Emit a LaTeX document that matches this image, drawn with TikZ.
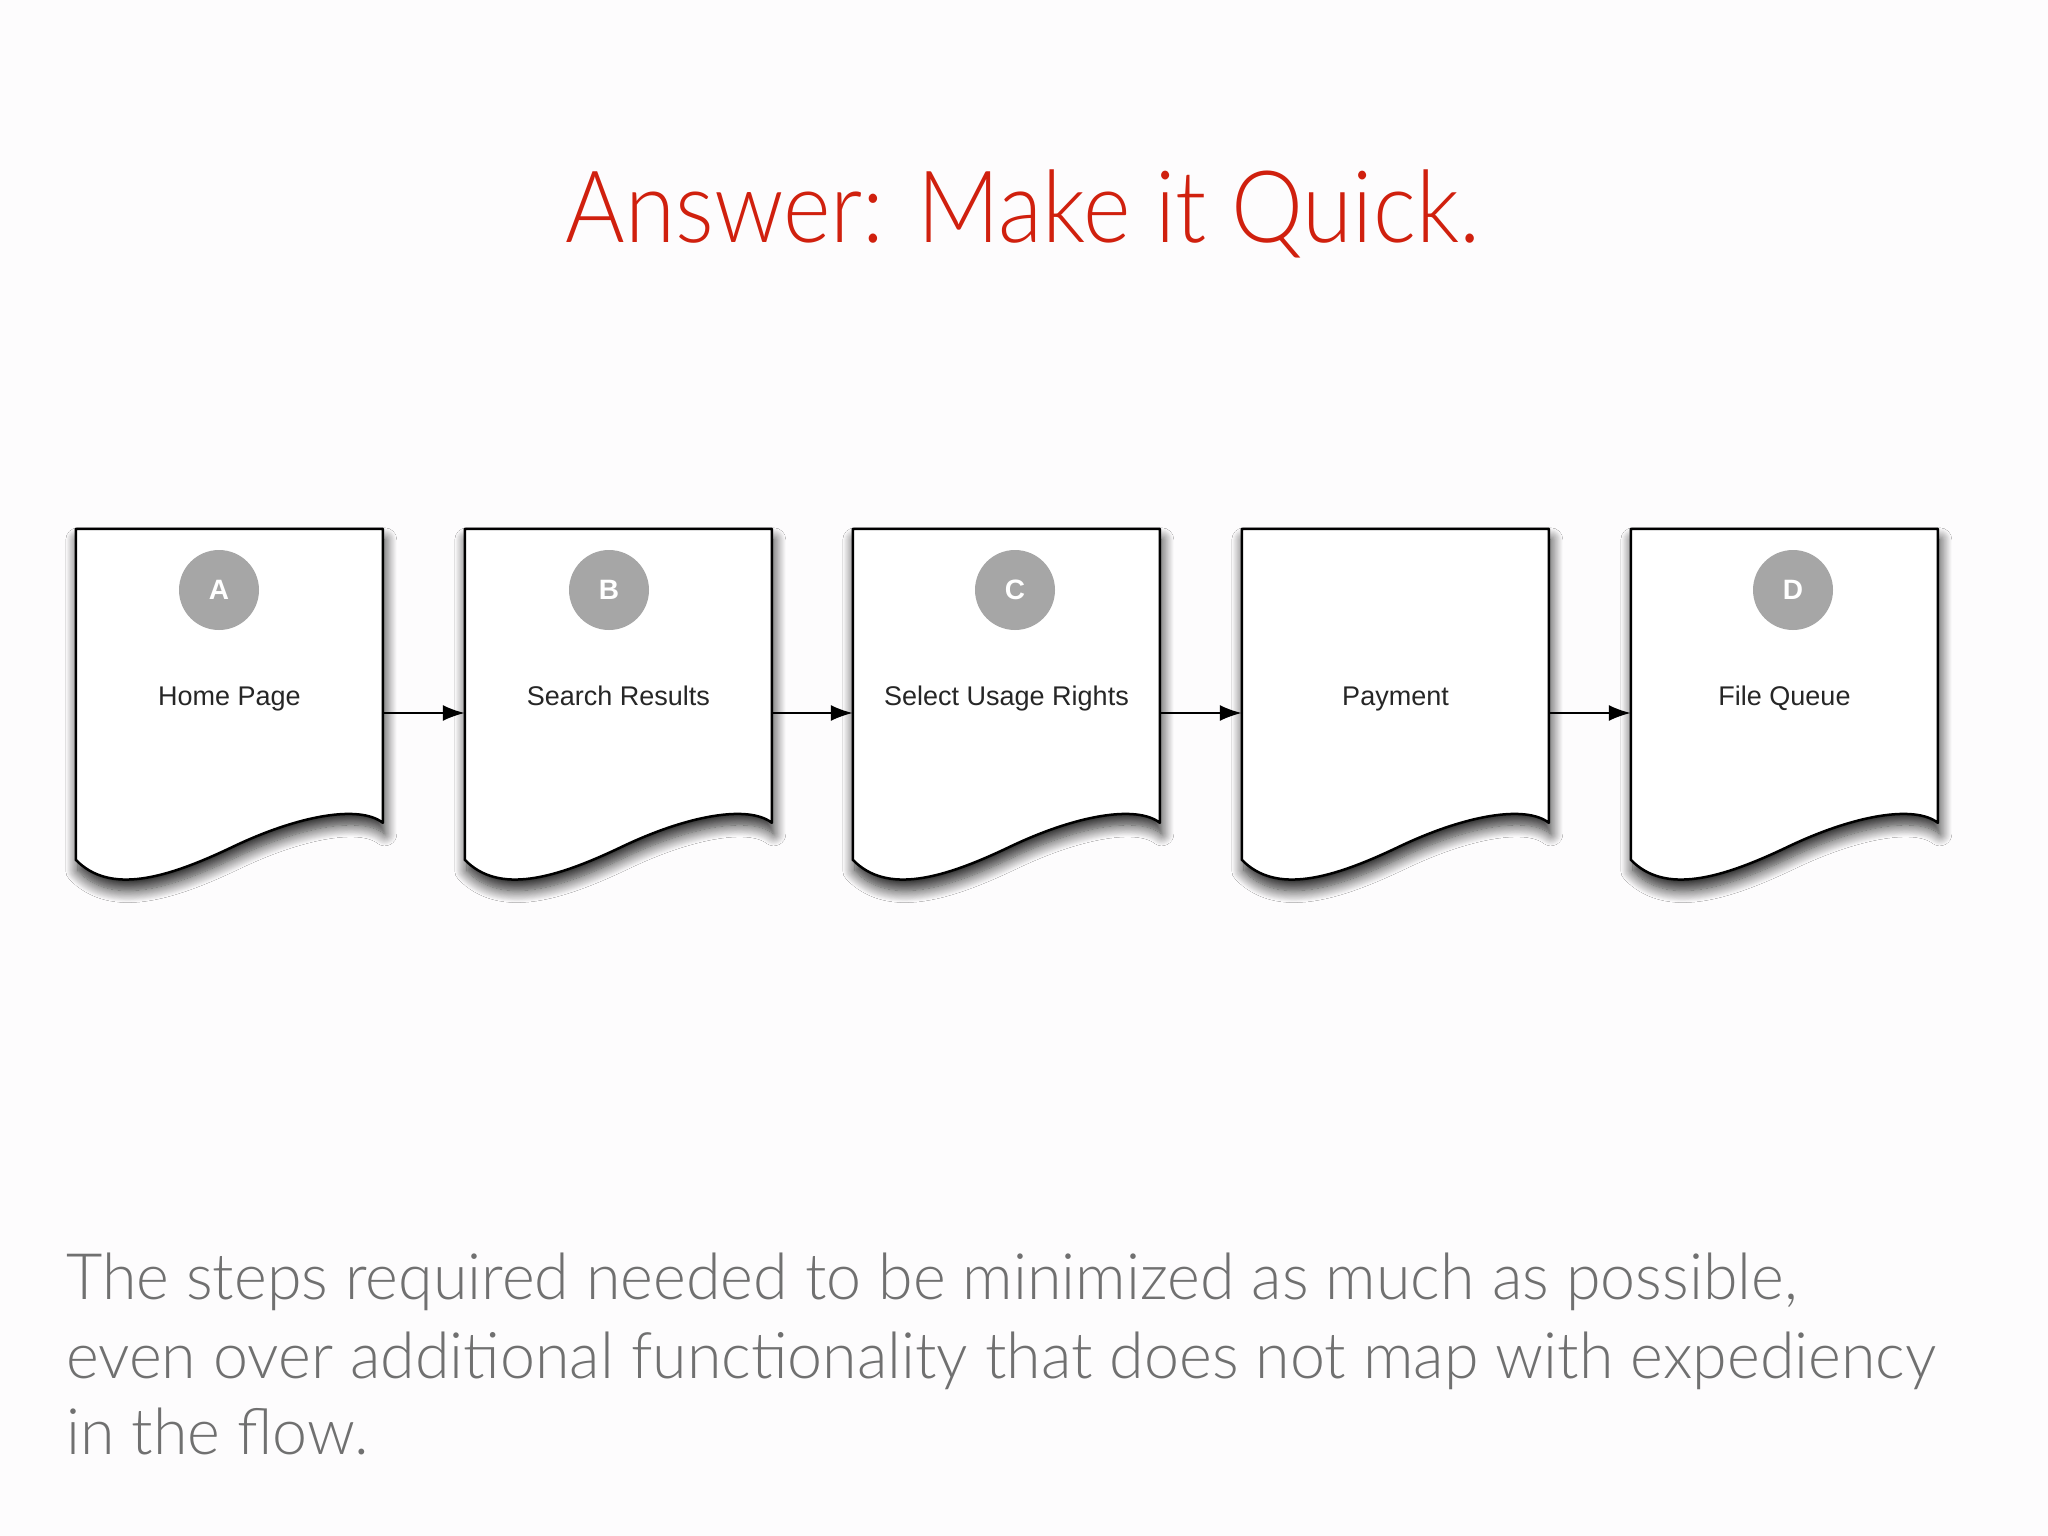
\documentclass[tikz,border=0pt]{standalone}
\usepackage{fontspec}
\setmainfont{Liberation Sans}
\newfontfamily\lightfont{Lato Light}
\usetikzlibrary{arrows.meta,shadows.blur}
\definecolor{titlered}{RGB}{208,32,14}
\definecolor{bodygray}{RGB}{112,112,112}
\definecolor{circgray}{RGB}{166,166,166}
\definecolor{bgcol}{RGB}{253,252,253}
\tikzset{
 docbox/.style={minimum width=307pt, minimum height=368pt, inner sep=0pt, draw=none},
 docshape/.style={draw=black, line width=2.5pt, fill=white, line join=round,
   blur shadow={shadow xshift=2pt, shadow yshift=-11pt, shadow blur radius=12pt, shadow opacity=85, shadow blur steps=14}},
 badge/.style={circle, fill=circgray, minimum size=80pt, inner sep=0pt, text=white, font=\fontsize{28}{28}\selectfont\bfseries},
 doclabel/.style={anchor=base, font=\fontsize{27}{27}\selectfont, text=black!85},
 flow/.style={line width=2pt, -{Latex[length=22pt,width=16pt]}},
 bodyline/.style={anchor=base west, text=bodygray, inner sep=0pt, font=\lightfont\fontsize{64}{64}\selectfont},
}
\newcommand\flowdoc[3]{%
 \node[docbox] (#1) at (#2+153.5,713) {};
 \begin{scope}[shift={(#1.north west)}]
  \path[docshape] (0,0) -- (307,0) -- (307,294) .. controls (284,276) and (224,286) .. (157,318) .. controls (90,350) and (34,366) .. (0,331) -- cycle;
 \end{scope}
 \node[doclabel] (#1-label) at (#2+153.5,705) {#3};
}
\begin{document}
\begin{tikzpicture}[x=1pt,y=-1pt]
\path[fill=bgcol] (0,0) rectangle (2048,1536);
\useasboundingbox (0,0) rectangle (2048,1536);
\node[anchor=base, inner sep=0pt, text=titlered, font=\lightfont\fontsize{100}{100}\selectfont] (title) at (1023,242) {\scalebox{0.91}[1]{Answer: Make it Quick.}};
\flowdoc{home}{76}{Home Page}
\flowdoc{search}{465}{Search Results}
\flowdoc{usage}{853}{Select Usage Rights}
\flowdoc{payment}{1242}{Payment}
\flowdoc{queue}{1631}{File Queue}
\node[badge] (bA) at (219,590) {A};
\node[badge] (bB) at (609,590) {B};
\node[badge] (bC) at (1015,590) {C};
\node[badge] (bD) at (1793,590) {D};
\draw[flow] (home.east) -- (search.west);
\draw[flow] (search.east) -- (usage.west);
\draw[flow] (usage.east) -- (payment.west);
\draw[flow] (payment.east) -- (queue.west);
\node[bodyline] (l1) at (66,1299) {\scalebox{0.98}[1]{The steps required needed to be minimized as much as possible,}};
\node[bodyline] (l2) at (66,1378) {\scalebox{0.98}[1]{even over additional functionality that does not map with expediency}};
\node[bodyline] (l3) at (66,1454) {\scalebox{0.98}[1]{in the flow.}};
\end{tikzpicture}
\end{document}
